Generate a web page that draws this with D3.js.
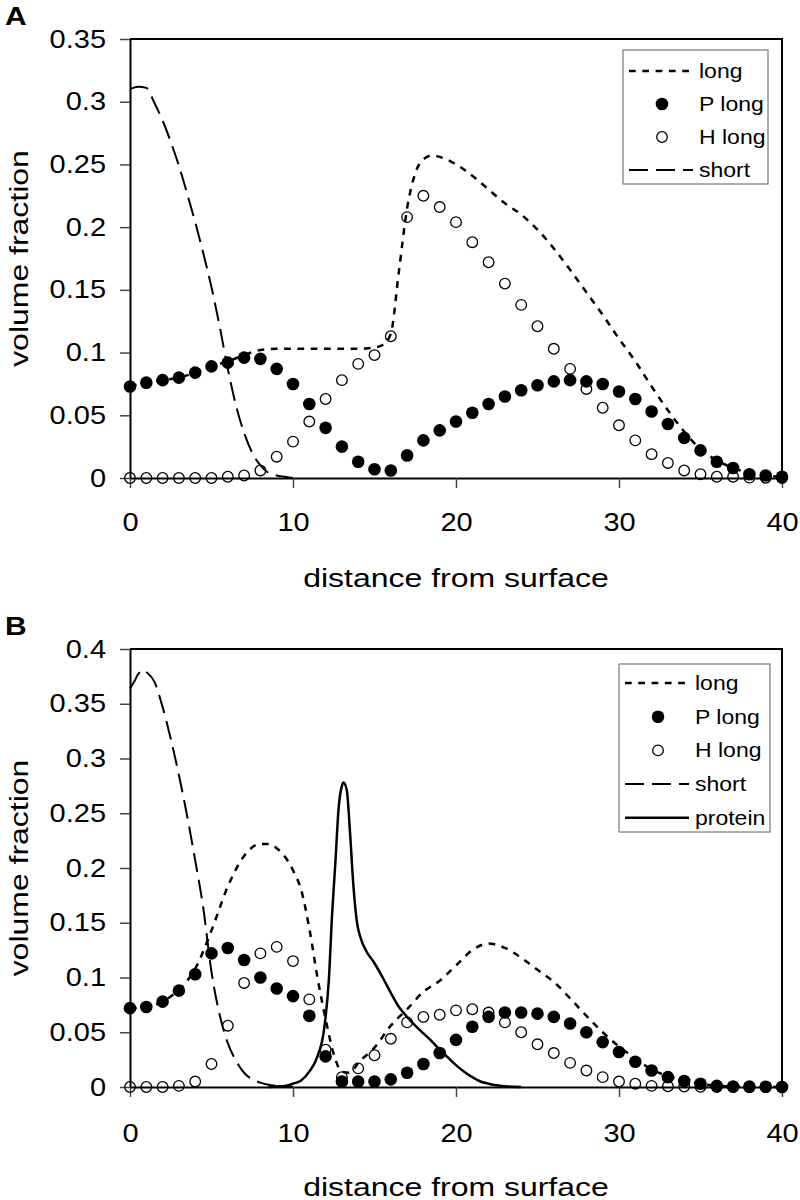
<!DOCTYPE html>
<meta charset="utf-8">
<style>
  body { margin: 0; background: #fff; }
  text { font-family: 'Liberation Sans', Arial, sans-serif; fill: #000; }
  .axis path { stroke: #000; stroke-width: 2px; }
  .axis line { stroke: #444; stroke-width: 1.5px; }
</style>
<body>
<svg id="chart" width="800" height="1200"></svg>
<script src="https://cdn.jsdelivr.net/npm/d3@7"></script>
<script>
// ---- data ----
var distance = [0,1,2,3,4,5,6,7,8,9,10,11,12,13,14,15,16,17,18,19,20,
                21,22,23,24,25,26,27,28,29,30,31,32,33,34,35,36,37,38,39,40];
var xTicks = [0, 10, 20, 30, 40];
var yTicksA = [0, 0.05, 0.1, 0.15, 0.2, 0.25, 0.3, 0.35];
var yTicksB = [0, 0.05, 0.1, 0.15, 0.2, 0.25, 0.3, 0.35, 0.4];
var legendA = ["long", "P long", "H long", "short"];
var legendB = ["long", "P long", "H long", "short", "protein"];

// panel A
var pLongA = [0.073,0.076,0.078,0.080,0.084,0.089,0.092,0.096,0.095,0.087,0.075,0.059,0.040,0.025,0.013,0.007,0.006,
              0.018,0.030,0.038,0.045,0.052,0.059,0.065,0.070,0.074,0.077,0.078,0.077,0.075,0.069,0.063,0.053,0.043,
              0.032,0.022,0.013,0.008,0.003,0.002,0.001];
var hLongA = [0,0,0,0,0,0,0.001,0.002,0.006,0.017,0.029,0.045,0.063,0.078,0.091,0.098,0.113,
              0.208,0.225,0.216,0.204,0.188,0.172,0.155,0.138,0.121,0.103,0.087,0.071,0.056,0.042,0.030,0.019,0.012,
              0.006,0.003,0.001,0.001,0.0003,0.0002,0];
var longAx = [0,1,2,3,4,5,6,7,8,9,10,11,12,13,14,15,15.5,16,16.5,17,17.5,18,18.5,19,20,21,22,23,24,25,26,27,28,29,30,31,32,33,34,35,36,37,38,39,40];
var longAy = [0.073,0.076,0.078,0.080,0.084,0.089,0.093,0.098,0.102,0.103,0.103,0.103,0.103,0.103,0.103,0.104,0.106,0.115,0.165,
              0.215,0.243,0.254,0.257,0.256,0.250,0.241,0.230,0.219,0.210,0.198,0.183,0.166,0.148,0.130,0.111,0.093,0.073,
              0.054,0.037,0.023,0.014,0.008,0.004,0.002,0.001];
var shortAx = [0,0.5,1,1.5,2,2.5,3,3.5,4,4.5,5,5.5,6,6.5,7,7.5,8,8.5,9,9.5,10];
var shortAy = [0.310,0.312,0.311,0.299,0.285,0.268,0.249,0.227,0.204,0.179,0.152,0.121,0.087,0.058,0.036,0.020,0.010,0.004,0.002,0.001,0];

// panel B
var pLongB = [0.072,0.073,0.078,0.088,0.103,0.122,0.127,0.116,0.100,0.090,0.083,0.065,0.028,0.005,0.005,0.005,0.007,
              0.013,0.021,0.031,0.043,0.055,0.064,0.068,0.068,0.067,0.064,0.058,0.050,0.041,0.032,0.023,0.015,0.009,
              0.0055,0.003,0.001,0.0005,0.0003,0.0002,0];
var hLongB = [0,0,0,0.001,0.005,0.021,0.056,0.095,0.122,0.128,0.115,0.080,0.034,0.009,0.017,0.029,0.044,
              0.059,0.064,0.066,0.070,0.071,0.068,0.059,0.050,0.039,0.031,0.022,0.015,0.009,0.005,0.003,0.001,0.0007,
              0.0004,0.0002,0,0,0,0,0];
var longBx = [0,1,2,3,4,5,6,7,8,8.5,9,10,10.5,11,11.5,12,12.5,13,13.5,14,15,16,17,18,19,20,21,22,23,24,25,26,27,28,29,30,31,32,33,34,35,36,37,38,39,40];
var longBy = [0.072,0.073,0.078,0.089,0.108,0.143,0.183,0.211,0.222,0.222,0.218,0.198,0.180,0.145,0.100,0.062,0.030,0.014,0.013,
              0.022,0.036,0.056,0.071,0.087,0.097,0.111,0.125,0.131,0.127,0.118,0.107,0.096,0.081,0.065,0.050,0.037,0.026,
              0.016,0.010,0.006,0.003,0.001,0.0005,0.0003,0.0002,0];
var shortBx = [0,0.25,0.5,0.8,1,1.5,2,2.5,3,3.5,4,4.5,5,5.5,6,6.5,7,7.5,8,8.5,9,10];
var shortBy = [0.364,0.370,0.377,0.381,0.379,0.370,0.347,0.318,0.285,0.248,0.207,0.163,0.105,0.066,0.040,0.024,0.013,0.007,0.004,0.002,0.001,0];
var proteinBx = [8.5,9,9.5,10,10.5,11,11.5,11.9,12.2,12.4,12.6,12.8,13,13.1,13.3,13.5,13.7,13.9,14.2,14.5,15,15.5,16,16.5,17,17.5,18,18.5,19,19.5,20,20.5,21,21.5,22,22.5,23,24];
var proteinBy = [0,0.0005,0.001,0.003,0.006,0.014,0.028,0.052,0.098,0.158,0.205,0.255,0.275,0.278,0.271,0.232,0.185,0.153,0.134,0.124,0.113,0.100,0.086,0.073,0.064,0.056,0.049,0.042,0.034,0.027,0.020,0.014,0.009,0.005,0.003,0.0015,0.0007,0];

// ---- drawing ----
var svg = d3.select("#chart");
var stretch = 1.16;   // the original lettering is wide; stretch text horizontally

var styles = {
  "long":    { dash: "6.7,6.6", width: 2.5 },
  "short":   { dash: "19,8", width: 2 },
  "protein": { dash: null, width: 2.5 }
};

function pairs(xs, ys) {
  return xs.map(function(x, i) { return [x, ys[i]]; });
}

function drawPanel(p) {
  var x = d3.scaleLinear().domain([0, 40]).range([130, 782]);
  var y = d3.scaleLinear().domain([0, p.yMax]).range([p.bottom, p.top]);
  var g = svg.append("g");

  // frame top + right
  g.append("path")
    .attr("d", "M" + x(0) + "," + y(p.yMax) + "H" + x(40) + "V" + y(0))
    .attr("fill", "none").attr("stroke", "#000").attr("stroke-width", 2);

  var xa = g.append("g").attr("class", "axis")
    .attr("transform", "translate(0," + y(0) + ")")
    .call(d3.axisBottom(x).tickValues(xTicks).tickSize(10).tickSizeOuter(0).tickPadding(p.xPad));
  xa.select(".domain").attr("stroke-width", 2.4);
  xa.selectAll("text").style("font-size", "25px").attr("transform", "scale(" + stretch + ",1)");

  var ya = g.append("g").attr("class", "axis")
    .attr("transform", "translate(" + x(0) + ",0)")
    .call(d3.axisLeft(y).tickValues(p.yTicks).tickSize(10).tickSizeOuter(0)
      .tickFormat(function(d) { return String(+d.toFixed(2)); }));
  ya.selectAll("text").style("font-size", "25px")
    .attr("x", -24 / stretch).attr("transform", "scale(" + stretch + ",1)");

  // titles
  g.append("text")
    .attr("transform", "translate(456," + (p.bottom + 109) + ") scale(1.23,1)")
    .attr("text-anchor", "middle").style("font-size", "26px")
    .text("distance from surface");
  g.append("text")
    .attr("transform", "translate(28," + ((p.top + p.bottom) / 2) + ") rotate(-90) scale(1.23,1)")
    .attr("text-anchor", "middle").style("font-size", "26px")
    .text("volume fraction");
  g.append("text")
    .attr("transform", "translate(5," + p.labelY + ") scale(1.2,1)")
    .style("font-size", "25px").style("font-weight", "bold")
    .text(p.label);

  var line = d3.line()
    .x(function(d) { return x(d[0]); })
    .y(function(d) { return y(d[1]); })
    .curve(d3.curveMonotoneX);

  function drawLine(data, key) {
    g.append("path").datum(data)
      .attr("d", line)
      .attr("fill", "none").attr("stroke", "#000")
      .attr("stroke-width", styles[key].width)
      .attr("stroke-dasharray", styles[key].dash);
  }

  drawLine(p.long, "long");

  g.append("g").selectAll("circle")
    .data(pairs(distance, p.hLong))
    .enter().append("circle")
      .attr("cx", function(d) { return x(d[0]); })
      .attr("cy", function(d) { return y(d[1]); })
      .attr("r", 5.3)
      .attr("fill", "none").attr("stroke", "#000").attr("stroke-width", 1.3);

  g.append("g").selectAll("circle")
    .data(pairs(distance, p.pLong))
    .enter().append("circle")
      .attr("cx", function(d) { return x(d[0]); })
      .attr("cy", function(d) { return y(d[1]); })
      .attr("r", 6.3)
      .attr("fill", "#000");

  drawLine(p.short, "short");
  if (p.protein) drawLine(p.protein, "protein");

  // legend
  var lg = g.append("g").attr("transform", "translate(" + p.legend.x + "," + p.legend.y + ")");
  lg.append("rect")
    .attr("width", p.legend.w).attr("height", p.legend.h)
    .attr("fill", "#fff").attr("stroke", "#777").attr("stroke-width", 1.2);

  p.legend.names.forEach(function(name, i) {
    var cy = p.legend.first + i * p.legend.step;
    if (name === "P long") {
      lg.append("circle").attr("cx", 39).attr("cy", cy).attr("r", 6.3).attr("fill", "#000");
    } else if (name === "H long") {
      lg.append("circle").attr("cx", 39).attr("cy", cy).attr("r", 5.3)
        .attr("fill", "none").attr("stroke", "#000").attr("stroke-width", 1.3);
    } else {
      lg.append("line")
        .attr("x1", 6).attr("x2", 70).attr("y1", cy).attr("y2", cy)
        .attr("stroke", "#000").attr("stroke-width", styles[name].width)
        .attr("stroke-dasharray", styles[name].dash);
    }
    lg.append("text")
      .attr("transform", "translate(76," + cy + ") scale(1.18,1)")
      .attr("dy", "0.35em").style("font-size", "19.5px")
      .text(name);
  });
}

drawPanel({
  label: "A", labelY: 25, top: 39, bottom: 478, yMax: 0.35, yTicks: yTicksA, xPad: 25,
  pLong: pLongA, hLong: hLongA,
  long: pairs(longAx, longAy), short: pairs(shortAx, shortAy),
  legend: { x: 623, y: 50, w: 145, h: 134, first: 21, step: 33, names: legendA }
});

drawPanel({
  label: "B", labelY: 635, top: 649, bottom: 1087, yMax: 0.4, yTicks: yTicksB, xPad: 27,
  pLong: pLongB, hLong: hLongB,
  long: pairs(longBx, longBy), short: pairs(shortBx, shortBy), protein: pairs(proteinBx, proteinBy),
  legend: { x: 619, y: 664, w: 151, h: 168, first: 19, step: 33.7, names: legendB }
});
</script>
</body>
